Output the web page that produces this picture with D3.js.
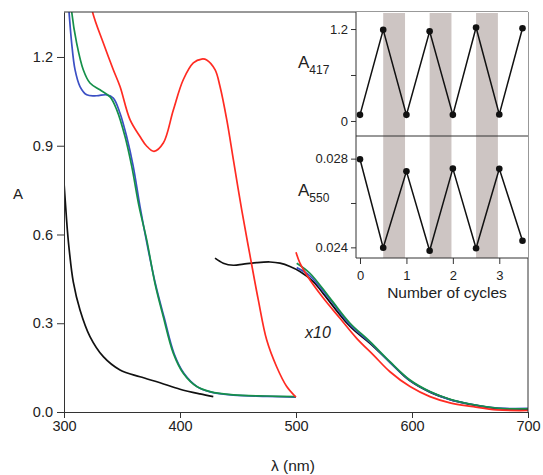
<!DOCTYPE html>
<html>
<head>
<meta charset="utf-8">
<script src="https://cdn.jsdelivr.net/npm/d3@7"></script>
<style>
  body { margin: 0; background: #fff; }
  svg text { font-family: "Liberation Sans", Arial, sans-serif; fill: #222; }
  .axis path, .axis line { stroke: #333; stroke-width: 1; }
</style>
</head>
<body>
<script>
// spectra, [wavelength nm, absorbance]
const redLow = [[321, 1.45], [324.4, 1.355], [333.9, 1.247], [342.5, 1.157], [348.3, 1.1], [356.9, 0.988], [365.5, 0.931], [371, 0.9], [377.6, 0.881], [385.6, 0.909], [394.2, 1.02], [402.8, 1.123], [411.5, 1.18], [418.7, 1.193], [423, 1.19], [430.2, 1.157], [434.5, 1.1], [440.3, 0.988], [446, 0.853], [453.2, 0.683], [460.3, 0.53], [467.5, 0.379], [474.7, 0.244], [483.3, 0.153], [492, 0.086], [499, 0.054], [500, 0.05]];
const blueLow = [[302.5, 1.45], [304.3, 1.354], [306.6, 1.247], [309.5, 1.157], [313.8, 1.1], [319.6, 1.072], [328.2, 1.069], [336.8, 1.072], [342.5, 1.061], [348.3, 1.01], [354, 0.931], [359.7, 0.83], [365.5, 0.695], [372, 0.56], [379, 0.43], [386.3, 0.32], [395, 0.196], [403.5, 0.13], [415, 0.085], [426, 0.068], [446, 0.057], [475, 0.053], [500, 0.05]];
const greenLow = [[305, 1.45], [306.6, 1.354], [310.9, 1.247], [316.6, 1.157], [322.4, 1.112], [331, 1.089], [339.7, 1.065], [345.4, 1.022], [352.6, 0.931], [358.4, 0.83], [364.7, 0.695], [371.3, 0.582], [378.4, 0.435], [385.6, 0.322], [394.2, 0.199], [402.8, 0.131], [414.4, 0.086], [425.9, 0.069], [446, 0.058], [474.7, 0.054], [500, 0.052]];
const blackLow = [[300, 0.775], [301.5, 0.69], [303, 0.61], [304.5, 0.548], [308, 0.44], [313.8, 0.345], [322.4, 0.255], [333.9, 0.187], [348.3, 0.142], [365.5, 0.119], [382.8, 0.099], [400, 0.077], [417.2, 0.061], [428.7, 0.052]];

// x10 part
const blackHigh = [[430.2, 0.52], [437.3, 0.503], [446, 0.496], [454.6, 0.5], [466.1, 0.505], [477.6, 0.507], [486.2, 0.503], [494.8, 0.492], [503.4, 0.475], [514.9, 0.441], [523.5, 0.4], [546.6, 0.289], [563.8, 0.232], [581, 0.168], [598, 0.106], [615, 0.068], [633, 0.042], [650, 0.026], [667, 0.015], [682, 0.01], [700, 0.01]];
const blueHigh = [[500.6, 0.488], [512, 0.46], [529.3, 0.38], [546.6, 0.295], [563.8, 0.235], [581, 0.168], [598.3, 0.106], [615.5, 0.068], [632.8, 0.042], [650, 0.027], [667.2, 0.016], [681.6, 0.012], [700, 0.012]];
const greenHigh = [[500.6, 0.503], [512, 0.469], [529.3, 0.385], [546.6, 0.3], [563.8, 0.238], [581, 0.17], [598.3, 0.108], [615.5, 0.069], [632.8, 0.043], [650, 0.027], [667.2, 0.016], [681.6, 0.011], [700, 0.011]];
const redHigh = [[500, 0.54], [503.4, 0.503], [509.2, 0.463], [523.5, 0.385], [537.9, 0.317], [552.3, 0.249], [566.6, 0.193], [581, 0.136], [598.3, 0.086], [615.5, 0.052], [632.8, 0.031], [652.9, 0.018], [673, 0.007], [700, 0.005]];

const xTicks = [300, 400, 500, 600, 700];
const yTicks = [0, 0.3, 0.6, 0.9, 1.2];

// inset
const cycles = [0, 0.5, 1, 1.5, 2, 2.5, 3, 3.5];
const a417 = [0.08, 1.19, 0.08, 1.17, 0.08, 1.22, 0.085, 1.21];
const a550 = [0.02797, 0.02398, 0.02743, 0.02385, 0.02755, 0.02396, 0.02754, 0.0243];
const bands = [[0.5, 0.97], [1.5, 1.97], [2.5, 2.97]];
const cycleTicks = [0, 1, 2, 3];
const a417Ticks = [0, 0.6, 1.2];
const a550Ticks = [0.024, 0.026, 0.028];

const svg = d3.select("body").append("svg").attr("width", 543).attr("height", 475);

const x = d3.scaleLinear().domain([300, 700]).range([64, 528]);
const y = d3.scaleLinear().domain([0, 1.352]).range([412, 12]);

svg.append("clipPath").attr("id", "clip")
  .append("rect").attr("x", 64).attr("y", 12).attr("width", 464).attr("height", 400);

const line = d3.line().x(d => x(d[0])).y(d => y(d[1])).curve(d3.curveCatmullRom.alpha(0.5));

const plot = svg.append("g").attr("clip-path", "url(#clip)");
const series = [
  [blackLow, "#111"], [blackHigh, "#111"],
  [blueLow, "#3b4fc4"], [blueHigh, "#3b4fc4"],
  [greenLow, "#15904a"], [greenHigh, "#15904a"],
  [redLow, "#ff2b22"], [redHigh, "#ff2b22"]
];
series.forEach(s => {
  plot.append("path").datum(s[0])
    .attr("d", line)
    .attr("fill", "none")
    .attr("stroke", s[1])
    .attr("stroke-width", 1.7);
});

// axes
const xAxis = svg.append("g").attr("class", "axis")
  .attr("transform", "translate(0,412)")
  .call(d3.axisBottom(x).tickValues(xTicks).tickSize(6).tickSizeOuter(0).tickPadding(3));
xAxis.selectAll("text").style("font-size", "14.5px");

const yAxis = svg.append("g").attr("class", "axis")
  .attr("transform", "translate(64,0)")
  .call(d3.axisLeft(y).tickValues(yTicks).tickFormat(d3.format(".1f")).tickSize(7).tickSizeOuter(0).tickPadding(4));
yAxis.selectAll("text").style("font-size", "14.5px");

// frame top / right
svg.append("line").attr("x1", 64).attr("x2", 528).attr("y1", 12).attr("y2", 12).attr("stroke", "#333");
svg.append("line").attr("x1", 528).attr("x2", 528).attr("y1", 12).attr("y2", 412).attr("stroke", "#333");

svg.append("text").attr("x", 18).attr("y", 199).attr("text-anchor", "middle")
  .style("font-size", "15px").text("A");
svg.append("text").attr("x", 293).attr("y", 471).attr("text-anchor", "middle")
  .style("font-size", "15.5px").text("λ (nm)");
svg.append("text").attr("x", 318).attr("y", 338).attr("text-anchor", "middle")
  .style("font-size", "16px").style("font-style", "italic").text("x10");

// ---- inset ----
const ix = d3.scaleLinear().domain([-0.086, 3.64]).range([356, 529]);
const iyTop = d3.scaleLinear().domain([-0.196, 1.409]).range([136, 13]);
const iyBot = d3.scaleLinear().domain([0.02352, 0.02902]).range([258, 136]);

const inset = svg.append("g");
inset.append("rect").attr("x", 356).attr("y", 12).attr("width", 172).attr("height", 246).attr("fill", "#fff");

inset.selectAll(".band").data(bands).enter().append("rect")
  .attr("class", "band")
  .attr("x", d => ix(d[0]))
  .attr("width", d => ix(d[1]) - ix(d[0]))
  .attr("y", 13).attr("height", 245)
  .attr("fill", "#cdc5c3");

const iLineTop = d3.line().x((d, i) => ix(cycles[i])).y(d => iyTop(d));
const iLineBot = d3.line().x((d, i) => ix(cycles[i])).y(d => iyBot(d));

inset.append("path").datum(a417).attr("d", iLineTop).attr("fill", "none").attr("stroke", "#111").attr("stroke-width", 1.5);
inset.append("path").datum(a550).attr("d", iLineBot).attr("fill", "none").attr("stroke", "#111").attr("stroke-width", 1.5);
inset.selectAll(".dtop").data(a417).enter().append("circle")
  .attr("cx", (d, i) => ix(cycles[i])).attr("cy", d => iyTop(d)).attr("r", 3.3).attr("fill", "#111");
inset.selectAll(".dbot").data(a550).enter().append("circle")
  .attr("cx", (d, i) => ix(cycles[i])).attr("cy", d => iyBot(d)).attr("r", 3.3).attr("fill", "#111");

// inset frame
inset.append("line").attr("x1", 356).attr("x2", 356).attr("y1", 12).attr("y2", 258).attr("stroke", "#333");
inset.append("line").attr("x1", 356).attr("x2", 528).attr("y1", 136).attr("y2", 136).attr("stroke", "#333");

const ixAxis = inset.append("g").attr("class", "axis")
  .attr("transform", "translate(0,258)")
  .call(d3.axisBottom(ix).tickValues(cycleTicks).tickFormat(d3.format("d")).tickSize(6).tickSizeOuter(0).tickPadding(7));
ixAxis.select(".domain").attr("d", "M356,0H528");
ixAxis.selectAll("text").style("font-size", "13px");

const iyAxisTop = inset.append("g").attr("class", "axis")
  .attr("transform", "translate(356,0)")
  .call(d3.axisLeft(iyTop).tickValues(a417Ticks).tickFormat(d => d === 0.6 ? "" : d3.format("~g")(d)).tickSize(5).tickSizeOuter(0).tickPadding(3));
iyAxisTop.select(".domain").remove();
iyAxisTop.selectAll("text").style("font-size", "13px");

const iyAxisBot = inset.append("g").attr("class", "axis")
  .attr("transform", "translate(356,0)")
  .call(d3.axisLeft(iyBot).tickValues(a550Ticks).tickFormat(d => Math.abs(d - 0.026) < 1e-6 ? "" : d3.format(".3f")(d)).tickSize(5).tickSizeOuter(0).tickPadding(3));
iyAxisBot.select(".domain").remove();
iyAxisBot.selectAll("text").style("font-size", "13px");

const lblTop = inset.append("text").attr("x", 298).attr("y", 68).style("font-size", "17px");
lblTop.append("tspan").text("A");
lblTop.append("tspan").attr("dy", 6).style("font-size", "12px").text("417");
const lblBot = inset.append("text").attr("x", 298).attr("y", 196).style("font-size", "17px");
lblBot.append("tspan").text("A");
lblBot.append("tspan").attr("dy", 6).style("font-size", "12px").text("550");

inset.append("text").attr("x", 447).attr("y", 298).attr("text-anchor", "middle")
  .style("font-size", "15.5px").text("Number of cycles");
</script>
</body>
</html>
